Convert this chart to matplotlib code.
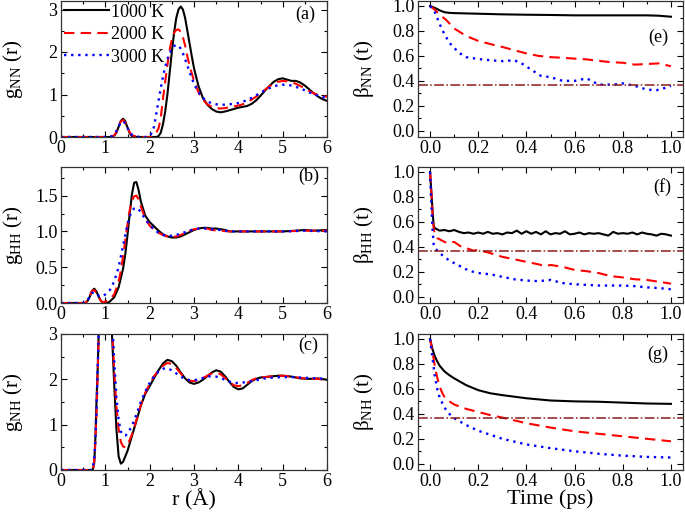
import numpy as np
import matplotlib
matplotlib.use("Agg")
import matplotlib.pyplot as plt
from matplotlib.ticker import MultipleLocator, FormatStrFormatter

plt.rcParams['font.family'] = ['Liberation Serif', 'DejaVu Serif']
plt.rcParams['mathtext.fontset'] = 'custom'
plt.rcParams['mathtext.rm'] = 'Liberation Serif'
plt.rcParams['mathtext.it'] = 'Liberation Serif:italic'

temps = ['1000 K', '2000 K', '3000 K']

# ---- g_NN(r) ----
r_nn_1 = [0.0, 1.10, 1.20, 1.25, 1.30, 1.35, 1.40, 1.45, 1.50, 1.55, 1.60, 1.70, 2.15, 2.20, 2.25, 2.30,
          2.35, 2.40, 2.45, 2.50, 2.55, 2.60, 2.65, 2.70, 2.75, 2.80, 2.85, 2.90, 2.95, 3.00, 3.10, 3.20,
          3.30, 3.40, 3.50, 3.60, 3.70, 3.80, 3.90, 4.00, 4.10, 4.20, 4.30, 4.40, 4.50, 4.60, 4.70, 4.80,
          4.90, 5.00, 5.10, 5.20, 5.30, 5.40, 5.50, 5.60, 5.70, 5.80, 5.90, 6.00]
g_nn_1 = [0.0, 0.0, 0.03, 0.10, 0.24, 0.38, 0.43, 0.37, 0.22, 0.09, 0.02, 0.0, 0.0, 0.02, 0.10, 0.30,
          0.60, 1.00, 1.50, 2.00, 2.45, 2.80, 3.00, 3.07, 3.00, 2.80, 2.50, 2.20, 1.90, 1.62, 1.20, 0.92,
          0.76, 0.66, 0.60, 0.58, 0.60, 0.63, 0.66, 0.69, 0.71, 0.73, 0.78, 0.86, 0.97, 1.09, 1.20, 1.30,
          1.36, 1.38, 1.35, 1.32, 1.32, 1.28, 1.21, 1.12, 1.03, 0.95, 0.89, 0.85]
r_nn_2 = [0.0, 1.15, 1.20, 1.25, 1.30, 1.35, 1.40, 1.45, 1.50, 1.55, 1.60, 1.70, 1.80, 2.05, 2.10, 2.20,
          2.25, 2.30, 2.35, 2.40, 2.45, 2.50, 2.55, 2.60, 2.65, 2.70, 2.75, 2.80, 2.85, 2.90, 2.95, 3.00,
          3.10, 3.20, 3.30, 3.40, 3.50, 3.60, 3.70, 3.80, 3.90, 4.00, 4.10, 4.20, 4.30, 4.40, 4.50, 4.60,
          4.70, 4.80, 4.90, 5.00, 5.10, 5.20, 5.30, 5.40, 5.50, 5.60, 5.70, 5.80, 5.90, 6.00]
g_nn_2 = [0.0, 0.0, 0.04, 0.12, 0.25, 0.37, 0.40, 0.34, 0.22, 0.11, 0.04, 0.01, 0.0, 0.0, 0.02, 0.20,
          0.45, 0.90, 1.30, 1.70, 2.05, 2.30, 2.45, 2.52, 2.53, 2.48, 2.35, 2.15, 1.90, 1.68, 1.50, 1.32,
          1.05, 0.88, 0.77, 0.71, 0.68, 0.67, 0.68, 0.70, 0.72, 0.74, 0.77, 0.82, 0.88, 0.95, 1.03, 1.11,
          1.19, 1.26, 1.30, 1.32, 1.31, 1.29, 1.25, 1.20, 1.14, 1.08, 1.03, 0.99, 0.96, 0.95]
r_nn_3 = [0.0, 1.10, 1.15, 1.20, 1.25, 1.30, 1.35, 1.40, 1.45, 1.50, 1.55, 1.60, 1.70, 1.80, 1.95, 2.00,
          2.05, 2.10, 2.15, 2.20, 2.25, 2.30, 2.35, 2.40, 2.45, 2.50, 2.55, 2.60, 2.65, 2.70, 2.75, 2.80,
          2.85, 2.90, 3.00, 3.10, 3.20, 3.30, 3.40, 3.50, 3.60, 3.70, 3.80, 3.90, 4.00, 4.10, 4.20, 4.30,
          4.40, 4.50, 4.60, 4.70, 4.80, 4.90, 5.00, 5.10, 5.20, 5.30, 5.40, 5.50, 5.60, 5.70, 5.80, 5.90, 6.00]
g_nn_3 = [0.0, 0.0, 0.02, 0.06, 0.14, 0.25, 0.34, 0.37, 0.32, 0.22, 0.12, 0.05, 0.01, 0.0, 0.0, 0.02,
          0.10, 0.25, 0.55, 0.85, 1.15, 1.42, 1.65, 1.83, 1.97, 2.07, 2.14, 2.17, 2.15, 2.08, 1.97, 1.83,
          1.68, 1.53, 1.25, 1.05, 0.92, 0.84, 0.79, 0.77, 0.76, 0.76, 0.77, 0.78, 0.80, 0.83, 0.87, 0.92,
          0.98, 1.04, 1.10, 1.15, 1.19, 1.22, 1.23, 1.23, 1.21, 1.18, 1.14, 1.10, 1.05, 1.01, 0.97, 0.94, 0.92]

# ---- g_HH(r) ----
r_hh_1 = [0.0, 0.55, 0.60, 0.65, 0.70, 0.75, 0.80, 0.85, 0.90, 0.95, 1.05, 1.10, 1.20, 1.30, 1.40, 1.45,
          1.50, 1.55, 1.60, 1.65, 1.70, 1.75, 1.80, 1.90, 2.00, 2.10, 2.20, 2.30, 2.40, 2.50, 2.60, 2.70,
          2.80, 2.90, 3.00, 3.10, 3.20, 3.30, 3.40, 3.50, 3.60, 3.70, 3.80, 4.00, 4.50, 5.00, 5.30, 5.50,
          5.70, 6.00]
g_hh_1 = [0.0, 0.0, 0.03, 0.09, 0.17, 0.20, 0.16, 0.09, 0.03, 0.0, 0.0, 0.02, 0.08, 0.22, 0.48, 0.68,
          0.95, 1.25, 1.52, 1.68, 1.69, 1.58, 1.42, 1.22, 1.13, 1.07, 1.01, 0.96, 0.93, 0.915, 0.915, 0.93,
          0.96, 0.99, 1.02, 1.04, 1.05, 1.05, 1.04, 1.04, 1.03, 1.02, 1.00, 1.00, 1.00, 1.00, 1.01, 1.02,
          1.01, 1.02]
r_hh_2 = [0.0, 0.55, 0.60, 0.65, 0.70, 0.75, 0.80, 0.85, 0.90, 0.95, 1.00, 1.10, 1.20, 1.30, 1.35, 1.40,
          1.45, 1.50, 1.55, 1.60, 1.65, 1.70, 1.75, 1.80, 1.90, 2.00, 2.10, 2.20, 2.30, 2.40, 2.50, 2.60,
          2.70, 2.80, 2.90, 3.00, 3.10, 3.20, 3.30, 3.40, 3.60, 3.80, 4.50, 5.00, 5.50, 6.00]
g_hh_2 = [0.0, 0.0, 0.04, 0.10, 0.17, 0.18, 0.14, 0.08, 0.03, 0.01, 0.02, 0.05, 0.12, 0.30, 0.45, 0.65,
          0.88, 1.10, 1.30, 1.43, 1.49, 1.50, 1.45, 1.35, 1.18, 1.08, 1.02, 0.98, 0.95, 0.93, 0.92, 0.93,
          0.95, 0.98, 1.01, 1.03, 1.04, 1.05, 1.04, 1.02, 1.01, 1.00, 1.00, 1.00, 1.01, 1.01]
r_hh_3 = [0.0, 0.50, 0.55, 0.60, 0.65, 0.70, 0.75, 0.80, 0.85, 0.90, 0.95, 1.00, 1.10, 1.20, 1.30, 1.40,
          1.45, 1.50, 1.55, 1.60, 1.65, 1.70, 1.75, 1.80, 1.90, 2.00, 2.10, 2.20, 2.30, 2.40, 2.50, 2.60,
          2.70, 2.80, 2.90, 3.00, 3.10, 3.20, 3.30, 3.40, 3.60, 3.80, 4.50, 5.00, 5.50, 6.00]
g_hh_3 = [0.0, 0.0, 0.01, 0.04, 0.09, 0.14, 0.15, 0.13, 0.10, 0.09, 0.10, 0.12, 0.18, 0.30, 0.50, 0.80,
          0.95, 1.10, 1.21, 1.29, 1.32, 1.33, 1.31, 1.27, 1.17, 1.09, 1.03, 0.98, 0.95, 0.94, 0.94, 0.95,
          0.97, 0.99, 1.01, 1.03, 1.04, 1.04, 1.04, 1.03, 1.02, 1.00, 1.00, 1.00, 1.01, 1.00]

# ---- g_NH(r) ----
r_nh_1 = [0.0, 0.70, 0.72, 0.75, 0.78, 0.80, 0.83, 0.86, 0.90, 0.95, 1.00, 1.05, 1.10, 1.15, 1.20, 1.25,
          1.30, 1.35, 1.40, 1.50, 1.60, 1.70, 1.80, 1.90, 2.00, 2.10, 2.20, 2.30, 2.40, 2.50, 2.60, 2.70,
          2.80, 2.90, 3.00, 3.10, 3.20, 3.30, 3.40, 3.50, 3.60, 3.70, 3.80, 3.90, 4.00, 4.10, 4.20, 4.30,
          4.40, 4.50, 4.60, 4.70, 4.80, 4.90, 5.00, 5.20, 5.40, 5.60, 5.80, 6.00]
g_nh_1 = [0.0, 0.0, 0.02, 0.15, 0.80, 1.50, 2.30, 3.40, 4.80, 5.80, 6.00, 5.40, 4.20, 3.00, 1.90, 0.90,
          0.30, 0.14, 0.18, 0.42, 0.75, 1.08, 1.42, 1.68, 1.85, 2.03, 2.20, 2.35, 2.43, 2.40, 2.30, 2.15,
          2.02, 1.93, 1.90, 1.93, 1.99, 2.07, 2.15, 2.20, 2.17, 2.07, 1.94, 1.83, 1.78, 1.80, 1.88, 1.96,
          2.01, 2.04, 2.05, 2.06, 2.07, 2.08, 2.08, 2.06, 2.02, 2.01, 2.02, 1.99]
r_nh_2 = [0.0, 0.70, 0.73, 0.76, 0.80, 0.85, 0.90, 1.00, 1.10, 1.15, 1.20, 1.25, 1.30, 1.35, 1.40, 1.45,
          1.50, 1.60, 1.70, 1.80, 1.90, 2.00, 2.10, 2.20, 2.30, 2.40, 2.50, 2.60, 2.70, 2.80, 2.90, 3.00,
          3.10, 3.20, 3.30, 3.40, 3.50, 3.60, 3.70, 3.80, 3.90, 4.00, 4.10, 4.20, 4.30, 4.40, 4.50, 4.60,
          4.80, 5.00, 5.20, 5.40, 5.60, 5.80, 6.00]
g_nh_2 = [0.0, 0.0, 0.05, 0.30, 1.20, 2.90, 4.60, 5.50, 4.30, 3.20, 2.20, 1.40, 0.90, 0.62, 0.52, 0.50,
          0.55, 0.78, 1.10, 1.43, 1.70, 1.90, 2.07, 2.20, 2.30, 2.36, 2.34, 2.25, 2.13, 2.03, 1.97, 1.96,
          1.98, 2.03, 2.08, 2.13, 2.15, 2.11, 2.03, 1.94, 1.87, 1.85, 1.87, 1.92, 1.98, 2.02, 2.04, 2.05,
          2.07, 2.08, 2.06, 2.03, 2.01, 2.01, 1.98]
r_nh_3 = [0.0, 0.68, 0.72, 0.76, 0.80, 0.85, 0.90, 1.00, 1.10, 1.15, 1.20, 1.25, 1.30, 1.35, 1.40, 1.45,
          1.50, 1.60, 1.70, 1.80, 1.90, 2.00, 2.10, 2.20, 2.30, 2.35, 2.40, 2.50, 2.60, 2.70, 2.80, 2.90,
          3.00, 3.10, 3.20, 3.30, 3.40, 3.50, 3.60, 3.70, 3.80, 3.90, 4.00, 4.20, 4.40, 4.60, 4.80, 5.00,
          5.20, 5.40, 5.60, 5.80, 6.00]
g_nh_3 = [0.0, 0.0, 0.05, 0.35, 1.30, 3.00, 4.50, 5.00, 4.30, 3.40, 2.40, 1.60, 1.10, 0.85, 0.77, 0.76,
          0.80, 0.97, 1.22, 1.50, 1.73, 1.92, 2.07, 2.17, 2.23, 2.25, 2.24, 2.20, 2.13, 2.06, 2.01, 1.98,
          1.98, 2.00, 2.03, 2.06, 2.07, 2.06, 2.03, 1.99, 1.95, 1.92, 1.92, 1.94, 1.98, 2.02, 2.04, 2.05,
          2.05, 2.04, 2.03, 2.02, 2.01]

# ---- beta_NN(t) ----
t_nn_1 = [0.0, 0.02, 0.04, 0.06, 0.08, 0.10, 0.20, 0.30, 0.40, 0.50, 0.60, 0.70, 0.80, 0.90, 0.95, 1.00]
b_nn_1 = [1.0, 0.985, 0.965, 0.950, 0.945, 0.943, 0.938, 0.933, 0.930, 0.928, 0.925, 0.925, 0.925, 0.925, 0.922, 0.914]
t_nn_2 = [0.0, 0.02, 0.04, 0.066, 0.10, 0.15, 0.20, 0.25, 0.30, 0.35, 0.40, 0.45, 0.50, 0.55, 0.60, 0.65,
          0.70, 0.75, 0.80, 0.85, 0.90, 0.95, 1.00]
b_nn_2 = [1.0, 0.97, 0.93, 0.89, 0.82, 0.76, 0.72, 0.695, 0.672, 0.645, 0.62, 0.60, 0.59, 0.585, 0.578, 0.572,
          0.56, 0.55, 0.545, 0.53, 0.535, 0.54, 0.517]
t_nn_3 = [0.0, 0.02, 0.05, 0.08, 0.12, 0.15, 0.20, 0.25, 0.30, 0.35, 0.38, 0.42, 0.46, 0.50, 0.55, 0.60,
          0.65, 0.70, 0.76, 0.80, 0.85, 0.90, 0.94, 0.97, 1.00]
b_nn_3 = [1.0, 0.95, 0.81, 0.705, 0.625, 0.59, 0.575, 0.565, 0.558, 0.565, 0.54, 0.49, 0.44, 0.43, 0.40, 0.40,
          0.42, 0.37, 0.37, 0.38, 0.36, 0.33, 0.325, 0.34, 0.36]

# ---- beta_HH(t) ----
t_hh_1 = [0.0, 0.005, 0.01, 0.015, 0.02, 0.04, 0.06, 0.08, 0.10, 0.12, 0.14, 0.16, 0.18, 0.20, 0.22, 0.24,
          0.26, 0.28, 0.30, 0.32, 0.34, 0.36, 0.38, 0.40, 0.42, 0.44, 0.46, 0.48, 0.50, 0.52, 0.54, 0.56,
          0.58, 0.60, 0.62, 0.64, 0.66, 0.68, 0.70, 0.72, 0.74, 0.76, 0.78, 0.80, 0.82, 0.84, 0.86, 0.88,
          0.90, 0.92, 0.94, 0.96, 0.98, 1.00]
b_hh_1 = [1.0, 0.85, 0.70, 0.57, 0.55, 0.53, 0.535, 0.525, 0.535, 0.52, 0.51, 0.515, 0.505, 0.515, 0.505, 0.52,
          0.505, 0.51, 0.50, 0.515, 0.51, 0.53, 0.505, 0.525, 0.505, 0.52, 0.50, 0.525, 0.50, 0.51, 0.505, 0.525,
          0.50, 0.505, 0.515, 0.50, 0.51, 0.505, 0.51, 0.50, 0.49, 0.52, 0.505, 0.51, 0.505, 0.515, 0.50, 0.515,
          0.505, 0.50, 0.49, 0.505, 0.50, 0.49]
t_hh_2 = [0.0, 0.005, 0.01, 0.015, 0.02, 0.03, 0.05, 0.07, 0.10, 0.13, 0.15, 0.18, 0.20, 0.25, 0.30, 0.35,
          0.40, 0.45, 0.48, 0.50, 0.55, 0.60, 0.65, 0.70, 0.75, 0.80, 0.85, 0.90, 0.95, 1.00]
b_hh_2 = [1.0, 0.85, 0.68, 0.55, 0.50, 0.47, 0.45, 0.43, 0.44, 0.40, 0.39, 0.37, 0.375, 0.35, 0.32, 0.30,
          0.28, 0.26, 0.245, 0.255, 0.24, 0.215, 0.205, 0.19, 0.165, 0.155, 0.14, 0.135, 0.12, 0.105]
t_hh_3 = [0.0, 0.005, 0.01, 0.015, 0.02, 0.04, 0.06, 0.08, 0.10, 0.13, 0.16, 0.20, 0.25, 0.30, 0.35, 0.40,
          0.45, 0.50, 0.55, 0.60, 0.70, 0.80, 0.85, 0.90, 0.95, 1.00]
b_hh_3 = [1.0, 0.75, 0.55, 0.42, 0.39, 0.35, 0.32, 0.29, 0.27, 0.24, 0.21, 0.19, 0.18, 0.16, 0.14, 0.13,
          0.125, 0.135, 0.11, 0.10, 0.09, 0.09, 0.085, 0.075, 0.07, 0.06]

# ---- beta_NH(t) ----
t_nh_1 = [0.0, 0.01, 0.02, 0.03, 0.04, 0.06, 0.08, 0.10, 0.15, 0.20, 0.25, 0.30, 0.40, 0.50, 0.60, 0.70,
          0.80, 0.90, 1.00]
b_nh_1 = [1.0, 0.92, 0.86, 0.82, 0.785, 0.74, 0.71, 0.685, 0.63, 0.59, 0.565, 0.55, 0.525, 0.507, 0.50, 0.497,
          0.49, 0.483, 0.48]
t_nh_2 = [0.0, 0.01, 0.02, 0.03, 0.04, 0.05, 0.06, 0.08, 0.10, 0.15, 0.20, 0.25, 0.30, 0.40, 0.50, 0.60,
          0.70, 0.80, 0.90, 1.00]
b_nh_2 = [1.0, 0.90, 0.78, 0.69, 0.62, 0.57, 0.535, 0.50, 0.475, 0.44, 0.415, 0.39, 0.37, 0.325, 0.29, 0.26,
          0.24, 0.22, 0.20, 0.18]
t_nh_3 = [0.0, 0.01, 0.02, 0.03, 0.04, 0.06, 0.08, 0.10, 0.15, 0.20, 0.30, 0.40, 0.50, 0.60, 0.70, 0.80,
          0.90, 1.00]
b_nh_3 = [1.0, 0.85, 0.70, 0.60, 0.53, 0.45, 0.40, 0.365, 0.31, 0.265, 0.20, 0.155, 0.125, 0.10, 0.08, 0.065,
          0.055, 0.05]

inv_e = 1 / np.e

styles = [dict(color='black', ls='-', lw=1.5),
          dict(color='#ff0000', ls=(0, (5, 3)), lw=1.5),
          dict(color='#0000ff', ls=(0, (1, 2.0)), lw=1.7)]

fig = plt.figure(figsize=(6.85, 5.16), dpi=100)

lx, rx, w = 61 / 685, 418 / 685, 266 / 685
rows = [1 - 137 / 516, 1 - 303 / 516, 1 - 470 / 516]
h = 136 / 516


def style_ax(ax):
    ax.tick_params(which='both', direction='in', top=True, right=True, labelsize=13, pad=2.5)
    ax.tick_params(which='major', length=4.5, width=0.8)
    ax.tick_params(which='minor', length=2.5, width=0.8)
    for s in ax.spines.values():
        s.set_color('#333333')
        s.set_linewidth(0.9)


left_data = [
    ([r_nn_1, r_nn_2, r_nn_3], [g_nn_1, g_nn_2, g_nn_3], 'NN', (0, 3.2), 1, 0.5, '%d', '(a)', (0.92, 0.90)),
    ([r_hh_1, r_hh_2, r_hh_3], [g_hh_1, g_hh_2, g_hh_3], 'HH', (0, 1.9), 0.5, 0.25, '%.1f', '(b)', (0.93, 0.93)),
    ([r_nh_1, r_nh_2, r_nh_3], [g_nh_1, g_nh_2, g_nh_3], 'NH', (0, 3.0), 1, 0.5, '%d', '(c)', (0.93, 0.92)),
]
right_data = [
    ([t_nn_1, t_nn_2, t_nn_3], [b_nn_1, b_nn_2, b_nn_3], 'NN', '(e)', (0.905, 0.73)),
    ([t_hh_1, t_hh_2, t_hh_3], [b_hh_1, b_hh_2, b_hh_3], 'HH', '(f)', (0.92, 0.85)),
    ([t_nh_1, t_nh_2, t_nh_3], [b_nh_1, b_nh_2, b_nh_3], 'NH', '(g)', (0.905, 0.85)),
]

for i, (xs, ys, lab, ylim, ymaj, ymin, fmt, tag, tpos) in enumerate(left_data):
    ax = fig.add_axes([lx, rows[i], w, h])
    for k in range(3):
        ax.plot(xs[k], ys[k], label=temps[k], **styles[k])
    ax.set_xlim(0, 6)
    ax.set_ylim(*ylim)
    ax.xaxis.set_major_locator(MultipleLocator(1))
    ax.xaxis.set_minor_locator(MultipleLocator(0.5))
    ax.yaxis.set_major_locator(MultipleLocator(ymaj))
    ax.yaxis.set_minor_locator(MultipleLocator(ymin))
    ax.yaxis.set_major_formatter(FormatStrFormatter(fmt))
    style_ax(ax)
    ax.set_ylabel(r'$\mathrm{g_{%s}}\ \mathrm{(r)}$' % lab, fontsize=15)
    ax.yaxis.set_label_coords(-0.135, 0.5)
    ax.text(tpos[0], tpos[1], tag, transform=ax.transAxes, fontsize=13, ha='center', va='center')
    if i == 0:
        ax.legend(loc='upper left', frameon=False, fontsize=13, handlelength=2.5,
                  handletextpad=0.1, borderaxespad=0.05, labelspacing=0.3, borderpad=0.1)
    if i == 2:
        ax.set_xlabel('r (Å)', fontsize=16, labelpad=-1)

for i, (xs, ys, lab, tag, tpos) in enumerate(right_data):
    ax = fig.add_axes([rx, rows[i], 265 / 685, h])
    for k in range(3):
        ax.plot(xs[k], ys[k], **styles[k])
    ax.axhline(inv_e, color='#8b1a1a', ls='-.', lw=1.1)
    ax.set_xlim(-0.05, 1.05)
    ax.set_ylim(-0.05, 1.04)
    ax.xaxis.set_major_locator(MultipleLocator(0.2))
    ax.xaxis.set_minor_locator(MultipleLocator(0.1))
    ax.yaxis.set_major_locator(MultipleLocator(0.2))
    ax.yaxis.set_minor_locator(MultipleLocator(0.1))
    ax.xaxis.set_major_formatter(FormatStrFormatter('%.1f'))
    ax.yaxis.set_major_formatter(FormatStrFormatter('%.1f'))
    style_ax(ax)
    ax.set_ylabel(r'$\mathrm{\beta_{%s}}\ \mathrm{(t)}$' % lab, fontsize=15)
    ax.yaxis.set_label_coords(-0.16, 0.5)
    ax.text(tpos[0], tpos[1], tag, transform=ax.transAxes, fontsize=13, ha='center', va='center')
    if i == 2:
        ax.set_xlabel('Time (ps)', fontsize=16, labelpad=-1)

fig.savefig('out.png', dpi=100)
